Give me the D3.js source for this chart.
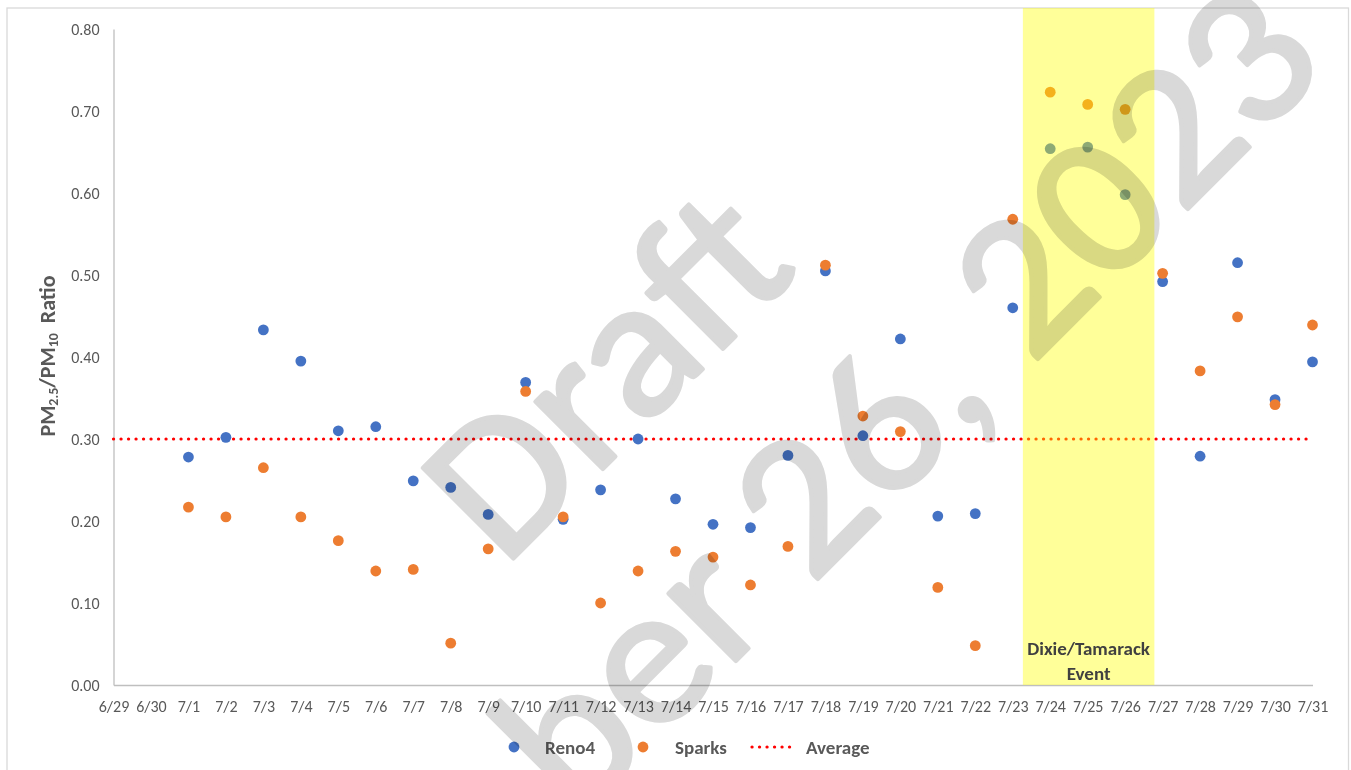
<!DOCTYPE html>
<html>
<head>
<meta charset="utf-8">
<script src="https://cdn.jsdelivr.net/npm/d3@7"></script>
<style>
  html, body { margin: 0; padding: 0; background: #fff; }
  svg { display: block; }
  text { font-family: Carlito, Calibri, Lato, "Open Sans", sans-serif; }
</style>
</head>
<body>
<svg id="chart" width="1351" height="770"></svg>
<script>
// ---- data ----
const dates = ["6/29","6/30","7/1","7/2","7/3","7/4","7/5","7/6","7/7","7/8","7/9","7/10","7/11","7/12","7/13","7/14","7/15","7/16","7/17","7/18","7/19","7/20","7/21","7/22","7/23","7/24","7/25","7/26","7/27","7/28","7/29","7/30","7/31"];
const reno4 = [null,null,0.278,0.302,0.433,0.395,0.310,0.315,0.249,0.241,0.208,0.369,0.202,0.238,0.300,0.227,0.196,0.192,0.280,0.505,0.304,0.422,0.206,0.209,0.460,0.654,0.656,0.598,0.492,0.279,0.515,0.348,0.394];
const sparks = [null,null,0.217,0.205,0.265,0.205,0.176,0.139,0.141,0.051,0.166,0.358,0.205,0.100,0.139,0.163,0.156,0.122,0.169,0.512,0.328,0.309,0.119,0.048,0.568,0.723,0.708,0.702,0.502,0.383,0.449,0.342,0.439];
const averageValue = 0.30;
const yTicks = [0,0.1,0.2,0.3,0.4,0.5,0.6,0.7,0.8];
const eventDates = ["7/24","7/26"];
const eventLabel = ["Dixie/Tamarack","Event"];
const seriesNames = ["Reno4","Sparks","Average"];
const watermarkLines = ["Draft","September 26, 2023"];

// ---- setup ----
const svg = d3.select("#chart");
const textColor = "#595959";
const colors = {Reno4:"#4472C4", Sparks:"#ED7D31", Average:"#FF0000"};

const x = d3.scalePoint().domain(dates).range([113.5, 1312.5]);
const y = d3.scaleLinear().domain([0, 0.8]).range([685, 29]);

// chart border
svg.append("rect").attr("x",7).attr("y",8).attr("width",1341.5).attr("height",790)
  .attr("fill","none").attr("stroke","#d9d9d9").attr("stroke-width",1.3);

// y axis
const yAxis = svg.append("g").attr("transform","translate(113.5,0)")
  .call(d3.axisLeft(y).tickValues(yTicks).tickFormat(d3.format(".2f")).tickSize(0).tickPadding(14));
yAxis.select(".domain").attr("stroke","#bfbfbf").attr("stroke-width",1.3);
yAxis.selectAll("text").attr("fill",textColor).attr("font-size",16).attr("dy","0.33em")
  .style("font-family","Carlito, Calibri, Lato, sans-serif");

// x axis
const xAxis = svg.append("g").attr("transform","translate(0,685)")
  .call(d3.axisBottom(x).tickSize(0).tickPadding(17));
xAxis.select(".domain").attr("stroke","#bfbfbf").attr("stroke-width",1.3);
xAxis.selectAll("text").attr("fill",textColor).attr("font-size",16).attr("dy","0.62em")
  .style("font-family","Carlito, Calibri, Lato, sans-serif");

// y axis title
const yt = svg.append("text").attr("transform","translate(55,356) rotate(-90)")
  .attr("text-anchor","middle").attr("fill",textColor).attr("font-weight","bold").attr("font-size",22);
yt.append("tspan").text("PM");
yt.append("tspan").text("2.5").attr("font-size",14).attr("baseline-shift","-3");
yt.append("tspan").text("/PM");
yt.append("tspan").text("10").attr("font-size",14).attr("baseline-shift","-3");
yt.append("tspan").text("\u00a0\u00a0Ratio");

// average line
svg.append("line")
  .attr("x1", x(dates[0])).attr("x2", x(dates[dates.length-1]))
  .attr("y1", y(averageValue)).attr("y2", y(averageValue))
  .attr("stroke", colors.Average).attr("stroke-width", 3.2)
  .attr("stroke-linecap","round").attr("stroke-dasharray","0.1,7.4");

// points
function drawSeries(vals, color) {
  const pts = dates.map((d,i)=>({d, v: vals[i]})).filter(p => p.v !== null);
  svg.append("g").selectAll("circle").data(pts).join("circle")
    .attr("cx", p => x(p.d)).attr("cy", p => y(p.v)).attr("r", 5.4)
    .attr("fill", color);
}
drawSeries(reno4, colors.Reno4);
drawSeries(sparks, colors.Sparks);

// event band
const step = x.step();
const bx0 = x(eventDates[0]) - step*0.73;
const bx1 = x(eventDates[1]) + step*0.78;
svg.append("rect").attr("x", bx0).attr("y", 8).attr("width", bx1-bx0).attr("height", y(0)-8)
  .attr("fill","#ffff00").attr("fill-opacity",0.4);
const el = svg.append("text").attr("text-anchor","middle").attr("fill","#404040")
  .attr("font-weight","bold").attr("font-size",19);
eventLabel.forEach((t,i)=> el.append("tspan").attr("x",(bx0+bx1)/2).attr("y",655+i*24.5).text(t));

// legend
const lg = svg.append("g").attr("font-weight","bold").attr("font-size",19).attr("fill",textColor);
lg.append("circle").attr("cx",514).attr("cy",747).attr("r",5.4).attr("fill",colors.Reno4);
lg.append("text").attr("x",545).attr("y",753.5).text(seriesNames[0]);
lg.append("circle").attr("cx",643).attr("cy",747).attr("r",5.4).attr("fill",colors.Sparks);
lg.append("text").attr("x",675).attr("y",753.5).text(seriesNames[1]);
lg.append("line").attr("x1",752).attr("x2",797).attr("y1",747).attr("y2",747)
  .attr("stroke",colors.Average).attr("stroke-width",3.2)
  .attr("stroke-linecap","round").attr("stroke-dasharray","0.1,7.4");
lg.append("text").attr("x",806).attr("y",753.5).text(seriesNames[2]);

// watermark
const wm = svg.append("g").style("mix-blend-mode","multiply").attr("fill","#d9d9d9")
  .attr("stroke","#d9d9d9").attr("stroke-width",4).attr("stroke-linejoin","round")
  .style("pointer-events","none");
wm.append("text").attr("transform","translate(503.5,568.5) rotate(-45)")
  .attr("font-size",200).attr("textLength",421).attr("lengthAdjust","spacingAndGlyphs")
  .style("font-family","Carlito, Calibri, Lato, sans-serif")
  .text(watermarkLines[0]);
wm.append("text").attr("transform","translate(117.5,1279.5) rotate(-45)")
  .attr("font-size",200).attr("textLength",1716).attr("lengthAdjust","spacingAndGlyphs")
  .style("font-family","Carlito, Calibri, Lato, sans-serif")
  .text(watermarkLines[1]);
</script>
</body>
</html>
